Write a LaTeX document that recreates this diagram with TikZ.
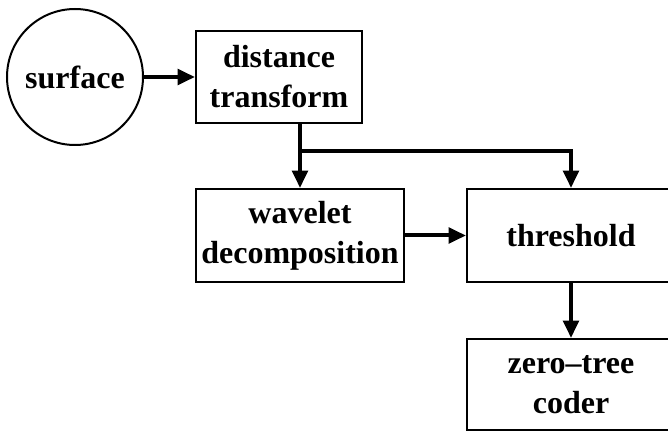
\documentclass[tikz,border=0pt]{standalone}
\usepackage{fontspec}
\setmainfont{Liberation Serif}
\usetikzlibrary{calc,positioning,arrows.meta}

\begin{document}
\begin{tikzpicture}[x=0.75pt, y=-0.75pt, align=center,
    font=\bfseries\fontsize{24}{30}\selectfont,
    blk/.style={draw, line width=1.5pt, inner sep=0pt},
    flow/.style={line width=3pt, -{Triangle[length=13pt,width=11.5pt]}}]
    \useasboundingbox (0,0) rectangle (668,431);

    \node [blk, circle, minimum size=102pt] (surface) at (75,77) {surface};
    \node [blk, minimum width=124.5pt, minimum height=69pt] (dist) at (279,77) {distance\\transform};
    \node [blk, minimum width=156pt, minimum height=69.75pt] (wave) at (300,235.5) {wavelet\\decomposition};
    \node [blk, right=45.75pt of wave, minimum width=156pt, minimum height=69.75pt] (thr) {threshold};
    \node [blk, below=41.25pt of thr, minimum width=156pt, minimum height=68.25pt] (coder) {zero--tree\\coder};

    \coordinate (split) at ($(dist.south -| wave.north)+(0,27)$);

    \draw[flow] (surface) -- (dist);
    \draw[flow] (dist.south -| wave.north) -- (wave.north);
    \draw[flow] (split) -| (thr.north);
    \draw[flow] (wave) -- (thr);
    \draw[flow] (thr) -- (coder);

\end{tikzpicture}
\end{document}
